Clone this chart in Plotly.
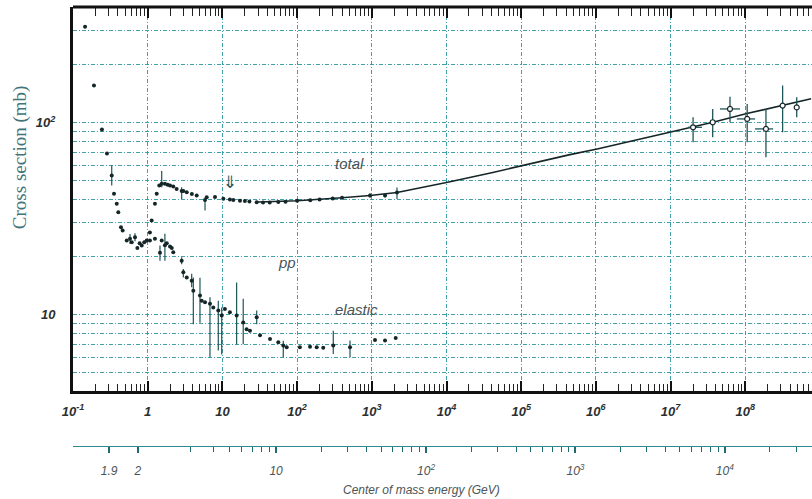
import math
import plotly.graph_objects as go

M_P = 0.938  # proton mass (GeV)

# ---- pp total cross section: lab momentum (GeV/c), sigma (mb), +err, -err
tot_p = [0.145, 0.191, 0.244, 0.285, 0.330, 0.354, 0.385, 0.404, 0.439, 0.462,
         0.524, 0.580, 0.611, 0.676, 0.727, 0.780, 0.832, 0.900, 0.970, 1.07,
         1.13, 1.25, 1.32, 1.43, 1.54, 1.70, 1.85, 1.99, 2.20, 2.44, 2.85, 3.0,
         3.33, 3.9, 4.53, 5.85, 6.16, 7.96, 10.3, 12.6, 14.0, 17.2, 20.0, 23.0,
         28.8, 35.0, 43.0, 56.0, 70.0, 100.0, 150.0, 200.0, 300.0, 400.0,
         946.0, 1503.0, 2173.0]
tot_s = [316, 156, 92, 69, 53, 42.6, 37.8, 34.1, 28.5, 27.4,
         24.3, 24.8, 23.8, 25.3, 22.2, 23.5, 22.9, 23.8, 24.3, 26.8,
         30.9, 37.8, 42.6, 47.0, 48.0, 48.0, 47.5, 47.0, 46.5, 45.1, 44.0, 44.0,
         43.4, 42.5, 41.7, 39.5, 40.8, 41.0, 40.1, 39.8, 39.5, 39.2, 39.0, 38.8,
         38.5, 38.4, 38.4, 38.6, 38.7, 39.2, 39.4, 39.8, 40.3, 40.6,
         41.7, 41.7, 43.2]
tot_ep = [0, 0, 0, 0, 6.7, 0, 0, 0, 0, 0,
          0, 1.5, 0, 1.2, 0, 0, 0, 0, 0, 0,
          0, 0, 0, 0, 8.0, 0, 0, 0, 0, 0, 2.0, 0,
          0, 0, 0, 0, 0, 0, 0, 0, 0, 0, 0, 0,
          0, 0, 0, 0, 0, 0, 0, 0, 0, 0,
          1.0, 1.0, 2.7]
tot_em = [0, 0, 0, 0, 6.0, 0, 0, 0, 0, 0,
          0, 1.5, 0, 1.2, 0, 0, 0, 0, 0, 0,
          0, 0, 0, 0, 2.0, 0, 0, 0, 0, 0, 4.0, 0,
          0, 0, 0, 4.7, 0, 0, 0, 0, 0, 0, 0, 0,
          0, 0, 0, 0, 0, 0, 0, 0, 0, 0,
          1.0, 1.0, 3.2]

# ---- pp elastic cross section
el_p = [1.07, 1.25, 1.46, 1.54, 1.70, 1.80, 1.99, 2.10, 2.20, 2.85, 3.0, 3.33,
        3.88, 4.08, 5.01, 5.28, 5.85, 6.82, 7.55, 8.81, 9.79, 10.8, 12.6, 15.5,
        19.0, 21.1, 23.4, 28.8, 31.9, 43.4, 56.0, 65.3, 72.6, 109.0, 149.0,
        183.0, 224.0, 305.0, 511.0, 1104.0, 1503.0, 2089.0]
el_s = [24.3, 24.8, 21.0, 24.3, 23.0, 23.5, 22.6, 22.2, 21.1, 19.1, 16.6, 15.6,
        15.0, 13.3, 12.56, 11.8, 11.6, 11.4, 10.9, 10.5, 9.9, 10.7, 10.3, 9.9,
        9.1, 8.4, 8.25, 9.7, 7.8, 7.47, 7.17, 6.9, 6.76, 6.76, 6.81,
        6.76, 6.71, 6.9, 6.76, 7.38, 7.32, 7.56]
el_ep = [0, 0, 1.9, 0, 3.4, 0, 0, 0, 0, 0.8, 0.7, 0,
         1.3, 2.3, 3.0, 0, 0, 0.9, 0, 1.3, 1.0, 0, 0, 4.8,
         3.0, 0, 0, 0.8, 0, 0, 0, 0.4, 0, 0, 0,
         0, 0, 1.35, 0.56, 0, 0, 0]
el_em = [0, 0, 1.9, 0, 3.9, 0, 0, 0, 0, 0.8, 1.0, 0,
         1.1, 4.4, 3.5, 0, 0, 5.4, 0, 4.0, 3.7, 0, 0, 2.9,
         2.1, 0, 0, 0.8, 0, 0, 0, 0.9, 0, 0, 0,
         0, 0, 0.66, 0.76, 0, 0, 0]

# ---- cosmic-ray estimates of the total cross section
cr_p = [2.0e7, 3.66e7, 6.24e7, 1.06e8, 1.89e8, 3.16e8, 4.88e8]
cr_s = [94.5, 100.4, 117.8, 104.5, 92.7, 122.6, 120.0]
cr_ep = [12.1, 17.4, 18.7, 20.5, 25.1, 33.4, 15.5]
cr_em = [15.6, 16.6, 17.4, 25.6, 26.8, 33.6, 13.4]
cr_xp = [0.63e7, 0, 2.25e7, 0.29e8, 0.46e8, 0, 0]
cr_xm = [0.29e7, 0, 1.66e7, 0.29e8, 0.54e8, 0, 0]

# ---- high-energy fit of the total cross section
fit_p = [30.0, 100.0, 400.0, 946.0, 2173.0, 1.0e4, 4.17e4, 1.05e5, 3.3e5,
         4.5e5, 1.04e6, 4.83e6, 2.0e7, 3.69e7, 1.05e8, 2.92e8, 7.6e8]
fit_s = [38.6, 39.2, 40.6, 41.7, 43.2, 48.7, 55.0, 59.7, 66.5,
         68.1, 72.9, 83.8, 94.5, 100.4, 111.4, 122.6, 133.0]

# ---- axis ticks
y_major = [10, 100]
y_major_text = ["10", "10<sup>2</sup>"]
y_minor = [5, 6, 7, 8, 9, 20, 30, 40, 50, 60, 70, 80, 90, 200, 300]
x_decades = [0.1, 1, 10, 1e2, 1e3, 1e4, 1e5, 1e6, 1e7, 1e8]
x_labels = ["10<sup>-1</sup>", "1", "10", "10<sup>2</sup>", "10<sup>3</sup>",
            "10<sup>4</sup>", "10<sup>5</sup>", "10<sup>6</sup>",
            "10<sup>7</sup>", "10<sup>8</sup>"]
cm_major = [1.9, 2, 10, 100, 1000, 1e4]
cm_major_text = ["1.9", "2", "10", "10<sup>2</sup>", "10<sup>3</sup>",
                 "10<sup>4</sup>"]
cm_minor = [3, 4, 5, 6, 7, 8, 9, 20, 30, 40, 50, 60, 70, 80, 90,
            200, 300, 400, 500, 600, 700, 800, 900,
            2000, 3000, 4000, 5000, 6000, 7000, 8000, 9000, 2e4, 3e4]

X_RANGE = [-1.0, 8.893]
Y_RANGE = [math.log10(4), math.log10(400)]
GRID = "rgba(45,150,160,0.9)"
GRID_DASH = "4px,2px,1px,2px"
INK = "#152628"
BAR = "#1f5558"
FRAME = "#111111"


def plab_from_sqrts(rs):
    """Lab momentum of a proton beam on a fixed proton target for CM energy rs."""
    e_lab = (rs * rs - 2 * M_P ** 2) / (2 * M_P)
    return math.sqrt(e_lab ** 2 - M_P ** 2)


minor_x = [k * 10 ** n for n in range(-1, 9) for k in range(2, 10)]
minor_x = [v for v in minor_x if math.log10(v) < X_RANGE[1]]

fig = go.Figure()

fig.add_trace(go.Scatter(
    x=fit_p, y=fit_s, mode="lines",
    line=dict(color=INK, width=1.6), hoverinfo="skip"))

fig.add_trace(go.Scatter(
    x=tot_p, y=tot_s, mode="markers",
    marker=dict(size=4, color=INK),
    error_y=dict(type="data", symmetric=False, array=tot_ep, arrayminus=tot_em,
                 color=BAR, thickness=1.2, width=0)))

fig.add_trace(go.Scatter(
    x=el_p, y=el_s, mode="markers",
    marker=dict(size=4, color=INK),
    error_y=dict(type="data", symmetric=False, array=el_ep, arrayminus=el_em,
                 color=BAR, thickness=1.2, width=0)))

fig.add_trace(go.Scatter(
    x=cr_p, y=cr_s, mode="markers",
    marker=dict(size=5, color="white", symbol="circle",
                line=dict(color=INK, width=1.2)),
    error_y=dict(type="data", symmetric=False, array=cr_ep, arrayminus=cr_em,
                 color=BAR, thickness=1.3, width=0),
    error_x=dict(type="data", symmetric=False, array=cr_xp, arrayminus=cr_xm,
                 color=BAR, thickness=1.3, width=0)))

# invisible traces so the extra axes (CM energy below, tick row on top) are laid out
for ax in ("x2", "x3"):
    fig.add_trace(go.Scatter(
        x=[1, 10], y=[10, 10], xaxis=ax, yaxis="y", mode="markers",
        marker=dict(opacity=0), hoverinfo="skip"))

# top edge of the frame
fig.add_shape(type="line", xref="paper", yref="y domain",
              x0=0, x1=1, y0=1, y1=1,
              line=dict(color=FRAME, width=3), layer="above")

label_font = dict(family="Liberation Sans", size=15, color="#4b5456",
                  style="italic")
fig.add_annotation(x=math.log10(510), y=math.log10(61), text="total",
                   showarrow=False, font=label_font)
fig.add_annotation(x=math.log10(73), y=math.log10(18.7), text="pp",
                   showarrow=False, font=label_font)
fig.add_annotation(x=math.log10(630), y=math.log10(10.6), text="elastic",
                   showarrow=False, font=label_font)
fig.add_annotation(x=math.log10(12.6), y=math.log10(48.9), text="⇓",
                   showarrow=False,
                   font=dict(family="DejaVu Sans", size=17, color=BAR))

fig.add_annotation(xref="paper", yref="paper", x=-0.0717, y=0.658,
                   xanchor="center", yanchor="middle",
                   text="Cross section (mb)", textangle=-90, showarrow=False,
                   font=dict(family="Liberation Serif", size=19, color="#3f7478"))
fig.add_annotation(xref="paper", yref="paper", x=0.472, y=-0.1,
                   xanchor="center", yanchor="middle",
                   text="Center of mass energy (GeV)", showarrow=False,
                   font=dict(family="Liberation Sans", size=12, color="#4b5456",
                             style="italic"))

tick_font = dict(family="Liberation Sans", size=13, color="#2b2f30",
                 style="italic", weight="bold")

fig.update_layout(
    width=812, height=499,
    margin=dict(l=73, r=0, t=7, b=53),
    paper_bgcolor="white", plot_bgcolor="white",
    showlegend=False,
    xaxis=dict(
        type="log", range=X_RANGE, anchor="y",
        tickmode="array", tickvals=x_decades, ticktext=x_labels,
        ticks="inside", ticklen=10, tickwidth=1.5, tickcolor=FRAME,
        showline=True, linewidth=3, linecolor=FRAME, mirror=False,
        showgrid=True, gridcolor=GRID, gridwidth=1, griddash=GRID_DASH,
        minor=dict(tickmode="array", tickvals=minor_x, ticks="inside",
                   ticklen=7, tickwidth=1, tickcolor="#222", showgrid=False),
        tickfont=tick_font, ticklabelstandoff=6, zeroline=False),
    xaxis3=dict(
        type="log", range=X_RANGE, overlaying="x", anchor="free",
        position=1.0, side="top",
        tickmode="array", tickvals=x_decades, showticklabels=False,
        ticks="inside", ticklen=10, tickwidth=1.5, tickcolor=FRAME,
        showline=False, showgrid=False, zeroline=False,
        minor=dict(tickmode="array", tickvals=minor_x, ticks="inside",
                   ticklen=8, tickwidth=1, tickcolor="#222", showgrid=False)),
    yaxis=dict(
        type="log", range=Y_RANGE, domain=[55 / 439, 1.0],
        tickmode="array", tickvals=y_major, ticktext=y_major_text,
        ticks="", showline=True, linewidth=3, linecolor=FRAME, mirror=False,
        showgrid=True, gridcolor=GRID, gridwidth=1, griddash=GRID_DASH,
        minor=dict(tickmode="array", tickvals=y_minor, ticks="",
                   showgrid=True, gridcolor=GRID, gridwidth=1,
                   griddash=GRID_DASH),
        tickfont=tick_font, ticklabelstandoff=12, zeroline=False),
    xaxis2=dict(
        type="log", range=X_RANGE, overlaying="x", anchor="free",
        position=0, side="bottom",
        tickmode="array", tickvals=[plab_from_sqrts(v) for v in cm_major],
        ticktext=cm_major_text,
        ticks="outside", ticklen=6, tickwidth=1.5, tickcolor="#1f6b70",
        showline=True, linewidth=1, linecolor="#2f8a90",
        showgrid=False, zeroline=False,
        minor=dict(tickmode="array",
                   tickvals=[plab_from_sqrts(v) for v in cm_minor],
                   ticks="outside", ticklen=5, tickwidth=1,
                   tickcolor="#1f6b70", showgrid=False),
        tickfont=dict(family="Liberation Sans", size=12, color="#4b5456",
                      style="italic"),
        ticklabelstandoff=8),
)

fig.write_html("out.html")
